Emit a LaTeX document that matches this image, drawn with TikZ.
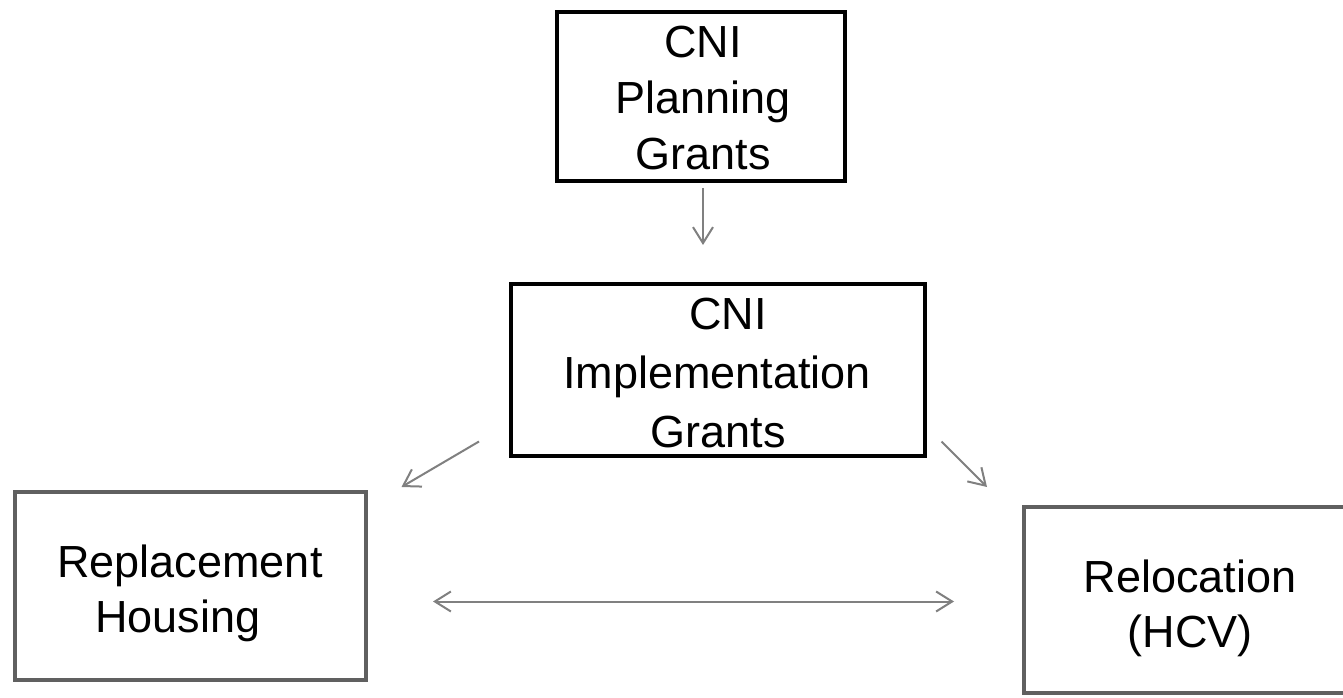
\documentclass[tikz,border=0pt]{standalone}
\usepackage{fontspec}
\setmainfont{Liberation Sans}
\usetikzlibrary{arrows.meta}
\definecolor{boxgray}{HTML}{606060}
\definecolor{arrgray}{HTML}{808080}
\begin{document}
\begin{tikzpicture}[x=1pt,y=1pt,
  blackbox/.style={draw=black,line width=4pt,minimum width=#1,inner sep=0pt},
  graybox/.style={draw=boxgray,line width=4pt,inner sep=0pt},
  lbl/.style={anchor=base,inner sep=0pt,font=\fontsize{45}{54}\selectfont},
  conn/.style={draw=arrgray,line width=2pt,-{Straight Barb[length=16pt,width=20pt,line width=2pt]}},
  conn2/.style={draw=arrgray,line width=2pt,{Straight Barb[length=16pt,width=20pt,line width=2pt]}-{Straight Barb[length=16pt,width=20pt,line width=2pt]}}]
\useasboundingbox[fill=white] (0,0) rectangle (1343,697);
% boxes
\node[blackbox=288pt,minimum height=169pt] (plan) at (701,600.5) {};
\node[blackbox=414pt,minimum height=172pt] (impl) at (718,327) {};
\node[graybox,minimum width=351pt,minimum height=188pt] (repl) at (190.5,111) {};
\node[graybox,minimum width=332pt,minimum height=186pt] (reloc) at (1190,97) {};
% texts
\node[lbl] (p1) at (703,639) {CNI};
\node[lbl] (p2) at (703,583) {Planning};
\node[lbl] (p3) at (703,527) {Grants};
\node[lbl] (i1) at (728,367) {CNI};
\node[lbl] (i2) at (717,309) {Implementation};
\node[lbl] (i3) at (718,250) {Grants};
\node[lbl] (r1) at (190,120) {Replacement};
\node[lbl] (r2) at (178,65) {Housing};
\node[lbl] (h1) at (1190,105) {Relocation};
\node[lbl] (h2) at (1190,50) {(HCV)};
% connector end points
\coordinate (a1s) at (703,509);
\coordinate (a1e) at (703,452);
\coordinate (a2s) at (479,255.5);
\coordinate (a2e) at (401.5,210);
\coordinate (a3s) at (941.5,255.5);
\coordinate (a3e) at (987,210);
\coordinate (a4s) at (433,95.5);
\coordinate (a4e) at (954,95.5);
% connectors
\draw[conn] (a1s) -- (a1e);
\draw[conn] (a2s) -- (a2e);
\draw[conn] (a3s) -- (a3e);
\draw[conn2] (a4s) -- (a4e);
\end{tikzpicture}
\end{document}
